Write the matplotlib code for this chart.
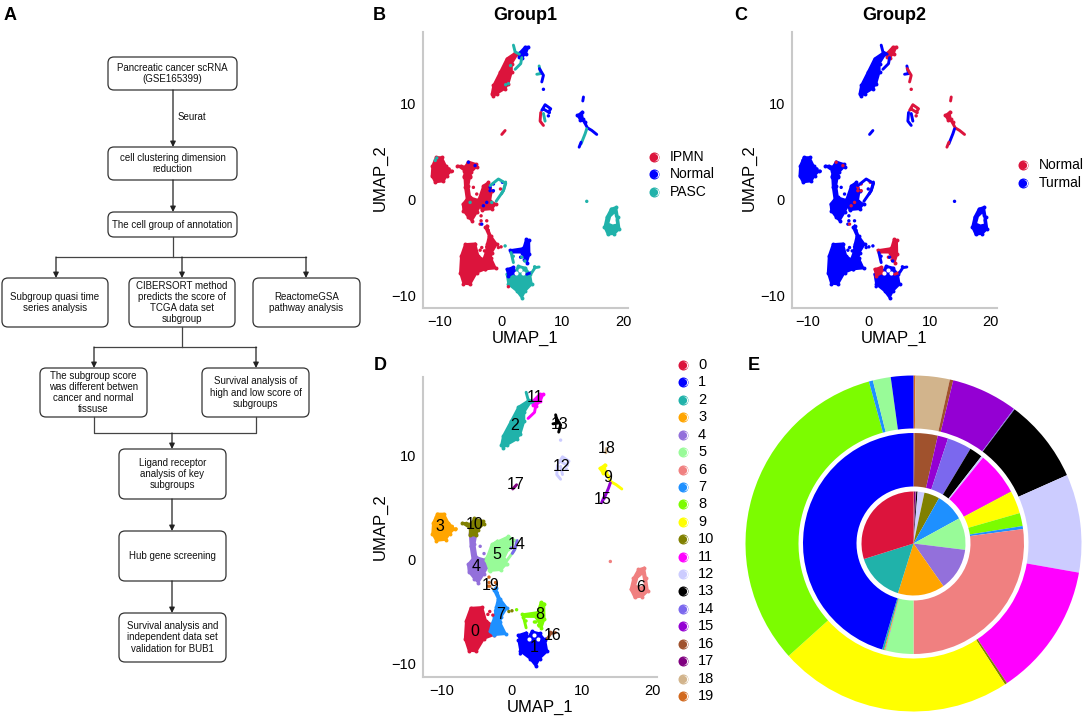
import matplotlib
matplotlib.use("Agg")
import matplotlib.pyplot as plt
from matplotlib.patches import FancyBboxPatch, Polygon

plt.rcParams['font.family'] = ['Liberation Sans', 'DejaVu Sans']
W, H = 1084, 718

# ---------- colours and names ----------
cluster_colors = ['#DC143C', '#0000FF', '#20B2AA', '#FFA500', '#9370DB', '#98FB98', '#F08080',
                  '#1E90FF', '#7CFC00', '#FFFF00', '#808000', '#FF00FF', '#CCCCFF', '#000000',
                  '#7B68EE', '#9400D3', '#A0522D', '#800080', '#D2B48C', '#D2691E']
group1_names = ['IPMN', 'Normal', 'PASC']
group1_colors = {'IPMN': '#DC143C', 'Normal': '#0000FF', 'PASC': '#20B2AA'}
group2_names = ['Normal', 'Turmal']
group2_colors = {'IPMN': '#0000FF', 'Normal': '#DC143C', 'PASC': '#0000FF'}
group2_legend = ['#DC143C', '#0000FF']

# ---------- UMAP regions (x, y) ----------
c0 = [(-5.9,-4.64),(-4.26,-4.57),(-3.72,-5.86),(-2.62,-6.39),(-2.62,-7.26),(-3.99,-7.61),(-5.08,-8.83),(-6.17,-8.76),(-6.72,-7.61),(-6.56,-5.86)]
c7 = [(-2.35,-2.72),(-1.69,-3.77),(-0.71,-4.64),(-1.53,-5.51),(-1.69,-6.04),(-0.87,-7.16),(-2.62,-7.26),(-3.17,-6.9),(-2.9,-6.2),(-2.5,-5.5),(-2.3,-4.6),(-2.0,-3.77),(-2.6,-2.9)]
c4 = [(-6.01,2.51),(-5.08,2.51),(-5.36,1.47),(-5.08,0.24),(-3.72,-0.03),(-3.44,-0.63),(-3.99,-1.33),(-4.81,-2.2),(-5.36,-1.85),(-6.17,-1.15),(-6.28,-0.45),(-5.63,0.07),(-5.9,1.29)]
c10 = [(-7.16,3.56),(-5.9,3.46),(-5.36,3.98),(-4.15,3.73),(-3.99,3.46),(-4.92,2.86),(-5.08,2.34),(-6.01,2.34),(-6.01,3.04)]
c3 = [(-10.66,4.43),(-9.73,4.43),(-9.07,3.56),(-8.2,2.97),(-8.9,2.51),(-9.45,1.92),(-10.82,1.82),(-11.37,2.51),(-11.26,3.56)]
c5_low = [(-3.72,-0.03),(-2.9,1.47),(-2.08,1.82),(-1.53,0.94),(-1.8,-0.1),(-0.87,-0.45),(-1.53,-0.98),(-3.17,-1.08)]
c5_fill = [(-2.4,1.65),(-0.5,2.25),(0,1.65),(-0.5,1),(-1.2,0.05),(-0.7,-0.4),(-1.65,-0.9),(-3.3,-0.95),(-3.8,0.05),(-2.85,1)]
c5_ring = [(-1.8,1.47),(-0.44,2.16),(0.77,1.71),(0.38,0.94),(-0.82,-0.17)]
c14_side = [(0.75,1.85),(0.4,1.0),(0.05,0.6)]
c2 = [(-1.53,11.06),(-1.26,11.94),(-0.16,13.33),(0.93,14.73),(2.3,15.32),(2.68,15.18),(1.75,14.21),(1.75,13.33),(1.2,12.11),(0.66,11.59),(-0.71,11.06),(-1.26,10.79)]
c2_top = [(2.02,16.13),(2.3,15.43),(3,15.18)]
c11 = [(3.0,15.32),(3.93,15.95),(4.48,15.95),(4.07,15.25),(3.39,14.83),(3,14.9)]
c11_tail = [(3.39,14.83),(3.22,14.2),(2.3,13.61)]
c13_side = [(6.23,13.96),(6.5,13.16),(5.85,13.09)]
c13_main = [(6.28,13.68),(6.94,12.98),(6.67,12.29)]
c12_top = [(6.67,9.32),(7.21,9.91),(8.14,9.49),(7.76,9.14),(7.05,9.42)]
c12_red = [(6.5,9.1),(6.39,8.2),(6.94,7.75)]
c12_teal = [(6.94,9.0),(7.21,8.2)]
c18 = [(13.5,10.72),(13.39,10.3)]
c9_head = [(12.51,8.8),(13.22,9.14),(13.39,8.45),(13.77,8.1),(12.95,8.34)]
c9_a = [(13.5,8.27),(14.15,7.5),(14.86,7.23),(15.68,6.81)]
c15_a = [(14.04,7.4),(13.77,6.88),(13.11,5.83)]
c15_b = [(13.11,6.0),(12.79,5.48)]
c17 = [(0.11,6.81),(0.66,7.22)]
c6 = [(18.03,-0.94),(18.85,-0.77),(19.13,-1.8),(19.4,-3.04),(18.58,-3.56),(17.49,-3.63),(16.94,-2.86),(17.32,-1.8)]
c6_hole = [(18.03,-1.8),(18.58,-1.47),(18.85,-2.5),(18.3,-2.58),(17.76,-2.44)]
c8 = [(1.48,-5.27),(3.66,-5.06),(4.1,-4.12),(4.59,-4.22),(4.64,-5.69),(4.21,-6.56),(3.39,-5.51),(1.64,-5.5)]
c8_left = [(1.64,-5.51),(2.02,-6.56)]
c1 = [(2.19,-7.61),(2.84,-6.91),(3.93,-7.09),(4.75,-7.78),(5.03,-8.83),(3.93,-9.53),(3.39,-10.23),(2.57,-9.53),(1.2,-8.83),(0.93,-7.78)]
c1_fringe = [(0.93,-7.26),(2.02,-7.02),(2.3,-7.61),(1.2,-7.96)]
c1_right = [(4.21,-7.78),(4.92,-7.61)]
c16 = [(5.03,-7.61),(5.57,-7.09),(6.23,-7.02)]

# region data, cluster id, group in panel B (None: only in panel D), kind
regions = [
    (c5_fill, 5, None, 'fill'),
    (c0, 0, 'IPMN', 'fill'), (c7, 7, 'IPMN', 'fill'), (c4, 4, 'IPMN', 'fill'), (c10, 10, 'IPMN', 'fill'),
    (c3, 3, 'IPMN', 'fill'), (c5_low, 5, 'IPMN', 'fill'), (c5_ring, 5, 'PASC', 'line'), (c14_side, 14, 'PASC', 'line'),
    (c2, 2, 'IPMN', 'fill'), (c2_top, 2, 'PASC', 'line'), (c11, 11, 'Normal', 'fill'), (c11_tail, 11, 'PASC', 'line'),
    (c13_side, 13, 'PASC', 'line'), (c13_main, 13, 'Normal', 'line'), (c12_top, 12, 'Normal', 'line'), (c12_red, 12, 'IPMN', 'line'),
    (c12_teal, 12, 'PASC', 'line'), (c18, 18, 'Normal', 'line'), (c9_head, 9, 'Normal', 'fill'), (c9_a, 9, 'Normal', 'line'),
    (c15_a, 15, 'PASC', 'line'), (c15_b, 15, 'Normal', 'line'), (c17, 17, 'IPMN', 'line'), (c6, 6, 'PASC', 'fill'),
    (c8, 8, 'Normal', 'fill'), (c8_left, 8, 'PASC', 'line'), (c1, 1, 'PASC', 'fill'), (c1_fringe, 1, 'Normal', 'fill'),
    (c1_right, 1, 'Normal', 'line'), (c16, 16, 'PASC', 'line'),
]

# single cells outside the main bodies
red_x = [-4.54,-3.99,-3.28,-3.28,-2.35,-3.44,-3.17,-2.35,-3.44,-2.73,-0.44,0.0,-7.98,-8.52,1.2,-6.5,-2.1,-1.9,-0.1]
red_y = [1.29,0.59,-1.68,-2.2,-2.2,-2.55,-4.99,-4.92,-5.27,-5.34,-4.99,-4.92,2.97,3.21,-9.08,3.5,-3.2,-4.7,1.12]
red_c = [4,4,19,19,19,19,0,7,0,0,10,10,3,3,1,10,7,7,14]
blue_x = [-3.17,-1.8,-1.26,-1.8,-1.26,-2.9,-2.35,-5.36,-4.26,0.22,6.94,7.9,7.75,3.2,3.8]
blue_y = [-2.55,1.29,1.64,0.94,0.94,-0.63,-0.28,3.91,3.56,1.82,11.52,9.1,8.75,-6.0,-6.3]
blue_c = [19,5,5,5,5,5,5,10,10,14,12,12,12,8,8]
teal_x = [0.66,-5.08,-1.53,-10.55,-10.8,14.04,1.2,0.75,3.4,3.9,5.5,1.55,2.0]
teal_y = [-4.82,-0.28,-0.28,4.36,4.1,-0.17,12.11,12.0,-6.0,-6.4,-7.0,14.0,-5.9]
teal_c = [8,4,5,3,3,6,2,2,8,8,16,2,8]
# gaps of empty space inside two bodies
gap_x = [3.66,2.4,3.1,18.3]
gap_y = [-7.68,-7.61,-7.3,-1.9]

# cluster number labels
label_names = ['0','1','2','3','4','5','6','7','8','9','10','11','12','13','14','15','16','17','18','19']
label_x = [-5.33,3.1,0.38,-10.24,-5.1,-2.14,18.33,-1.67,3.9,13.67,-5.38,3.33,7.05,6.8,0.62,12.95,5.81,0.57,13.57,-3.1]
label_y = [-6.94,-8.48,12.9,3.19,-0.65,0.48,-2.68,-5.26,-5.26,7.94,3.39,15.65,9.0,13.03,1.45,5.77,-7.26,7.23,10.71,-2.52]

# ---------- ring shares, clockwise from the top, cluster 19 to 0 ----------
ring_outer = [0.7,11.8,1.2,23.0,0.3,29.0,34.0,46.2,0.8,81.0,116.6,1.4,0.0,6.2,7.8]
ring_outer_ids = [19,18,16,15,14,13,12,11,10,9,8,7,6,5,1]
ring_middle = [0.5,12.2,5.5,12.8,6.9,1.1,22.9,0.2,11.9,6.9,1.6,97.5,14.7,0.3,0.5,1.0,163.5]
ring_middle_ids = [19,16,15,14,13,12,11,10,9,8,7,6,5,4,3,2,1]
ring_inner = [0.5,1.5,0.5,0.5,1.5,7.6,17.0,31.6,35.5,47.5,52.0,54.7,106.5]
ring_inner_ids = [19,17,16,15,13,12,10,7,5,4,3,2,0]

# ---------- flow chart text ----------
flow_boxes = [
    (108,57,237,90,'Pancreatic cancer scRNA\n(GSE165399)'),
    (108,147,237,180,'cell clustering dimension\nreduction'),
    (108,212,237,237,'The cell group of annotation'),
    (2,278,108,327,'Subgroup quasi time\nseries analysis'),
    (129,278,235,327,'CIBERSORT method\npredicts the score of\nTCGA data set\nsubgroup'),
    (253,278,360,327,'ReactomeGSA\npathway analysis'),
    (40,368,147,417,'The subgroup score\nwas different betwen\ncancer and normal\ntissuse'),
    (202,368,309,417,'Survival analysis of\nhigh and low score of\nsubgroups'),
    (119,449,226,499,'Ligand receptor\nanalysis of key\nsubgroups'),
    (119,531,226,581,'Hub gene screening'),
    (119,613,226,662,'Survival analysis and\nindependent data set\nvalidation for BUB1'),
]
flow_lines = [[(173,237),(173,257)],[(56,257),(306,257)],[(182,327),(182,347)],[(94,347),(256,347)],
              [(94,417),(94,433),(256,433),(256,417)]]
flow_arrows = [[(173,90),(173,147)],[(173,180),(173,212)],[(56,257),(56,278)],[(182,257),(182,278)],
               [(306,257),(306,278)],[(94,347),(94,368)],[(256,347),(256,368)],[(172,433),(172,449)],
               [(172,499),(172,531)],[(172,581),(172,613)]]

# ---------- layout ----------
fig = plt.figure(figsize=(W/100, H/100), dpi=100, facecolor='white')

def axes_px(l, t, r, b, **kw):
    return fig.add_axes([l/W, 1-b/H, (r-l)/W, (b-t)/H], **kw)

def style(ax, xl, yl, xlab, ylab):
    ax.set_xlim(*xl); ax.set_ylim(*yl)
    ax.set_xticks([-10,0,10,20]); ax.set_yticks([-10,0,10])
    ax.tick_params(length=0, labelsize=10.5, pad=5)
    for s in ('top','right'):
        ax.spines[s].set_visible(False)
    for s in ('left','bottom'):
        ax.spines[s].set_color('#C9C9C9'); ax.spines[s].set_linewidth(1.5)
    ax.set_xlabel('UMAP_1', fontsize=12, va='center')
    ax.set_ylabel('UMAP_2', fontsize=12, va='center')
    ax.xaxis.set_label_coords(*xlab)
    ax.yaxis.set_label_coords(*ylab)

def draw_umap(ax, color_of, panel_d=False):
    for pts, cid, grp, kind in regions:
        if grp is None and not panel_d:
            continue
        col = color_of(cid, grp)
        xs = [p[0] for p in pts]; ys = [p[1] for p in pts]
        if kind == 'fill':
            ax.add_patch(Polygon(pts, closed=True, fc=col, ec=col, lw=1.5))
            ax.scatter(xs, ys, s=8, color=col, lw=0)
        else:
            ax.plot(xs, ys, color=col, lw=2.1, solid_capstyle='round', solid_joinstyle='round')
    ax.add_patch(Polygon(c6_hole, closed=True, fc='white', ec='none'))
    for xs, ys, cs, g in [(red_x, red_y, red_c, 'IPMN'), (blue_x, blue_y, blue_c, 'Normal'), (teal_x, teal_y, teal_c, 'PASC')]:
        ax.scatter(xs, ys, s=6, lw=0, color=[color_of(c, g) for c in cs])
    ax.scatter(gap_x, gap_y, s=9, lw=0, color='white')

l, r = 423, 628
axB = axes_px(l, 32, r, 308)
draw_umap(axB, lambda c, g: group1_colors[g])
style(axB, (-12.8, 20.8), (-11.3, 17.5), ((525-l)/(r-l), (308-338)/276), ((380-l)/(r-l), (308-178)/276))
axB.set_title('Group1', fontsize=13, fontweight='bold', pad=9)

l, r = 792, 997
axC = axes_px(l, 32, r, 308)
draw_umap(axC, lambda c, g: group2_colors[g])
style(axC, (-12.6, 21.0), (-11.3, 17.5), ((894-l)/(r-l), (308-338)/276), ((749-l)/(r-l), (308-178)/276))
axC.set_title('Group2', fontsize=13, fontweight='bold', pad=9)

l, r = 423, 657
axD = axes_px(l, 377, r, 677)
draw_umap(axD, lambda c, g: cluster_colors[c], panel_d=True)
style(axD, (-12.7, 20.7), (-11.3, 17.6), ((540-l)/(r-l), (677-707)/300), ((380-l)/(r-l), (677-527)/300))
for nm, x, y in zip(label_names, label_x, label_y):
    axD.text(x, y, nm, fontsize=11.5, ha='center', va='center', color='black')

# nested rings
axE = axes_px(743, 373, 1084, 714)
R = 170.5
axE.pie(ring_outer, colors=[cluster_colors[i] for i in ring_outer_ids], startangle=90, counterclock=False,
        radius=168/R, wedgeprops=dict(width=(168-115)/R, lw=0))
axE.pie(ring_middle, colors=[cluster_colors[i] for i in ring_middle_ids], startangle=90, counterclock=False,
        radius=110.5/R, wedgeprops=dict(width=(110.5-57)/R, lw=0))
axE.pie(ring_inner, colors=[cluster_colors[i] for i in ring_inner_ids], startangle=90, counterclock=False,
        radius=52/R, wedgeprops=dict(lw=0))
axE.set_xlim(-1, 1); axE.set_ylim(-1, 1)
axE.set_aspect('equal')

# overlay in pixel units
ov = fig.add_axes([0, 0, 1, 1], facecolor='none', zorder=10)
ov.set_xlim(0, W); ov.set_ylim(H, 0); ov.axis('off')

for x0, y0, x1, y1, txt in flow_boxes:
    ov.add_patch(FancyBboxPatch((x0, y0), x1-x0, y1-y0, boxstyle='round,pad=0,rounding_size=6',
                                fc='white', ec='#333333', lw=0.9))
    ov.text((x0+x1)/2, (y0+y1)/2, txt, fontsize=7, ha='center', va='center', color='#111111', linespacing=1.15)
for seg in flow_lines:
    ov.plot([p[0] for p in seg], [p[1] for p in seg], color='#444444', lw=0.9)
for a, b in flow_arrows:
    ov.annotate('', xy=b, xytext=a, arrowprops=dict(arrowstyle='-|>', color='#222222', lw=0.9,
                mutation_scale=8, shrinkA=0, shrinkB=0))
ov.text(178, 117, 'Seurat', fontsize=7, va='center', color='#111111')

for t, x, y in [('A',10,15),('B',379,15),('C',741,15),('D',380,366),('E',754,366)]:
    ov.text(x, y, t, fontsize=13, fontweight='bold', ha='center', va='center')

def legend(x, ys, colors, names, tx, fs):
    for yy, c, n in zip(ys, colors, names):
        ov.scatter([x], [yy], s=52, color=c, lw=0)
        ov.scatter([x+0.5], [yy], s=29, color='white', lw=0)
        ov.scatter([x-0.4], [yy], s=27, color=c, lw=0)
        ov.text(tx, yy, n, fontsize=fs, va='center')

legend(654, [157,174,192], [group1_colors[g] for g in group1_names], group1_names, 670, 10)
legend(1023, [165,183], group2_legend, group2_names, 1039, 10)
legend(683, [365+17.42*i for i in range(20)], cluster_colors, label_names, 698, 10.5)

fig.savefig('out.png', dpi=100)
